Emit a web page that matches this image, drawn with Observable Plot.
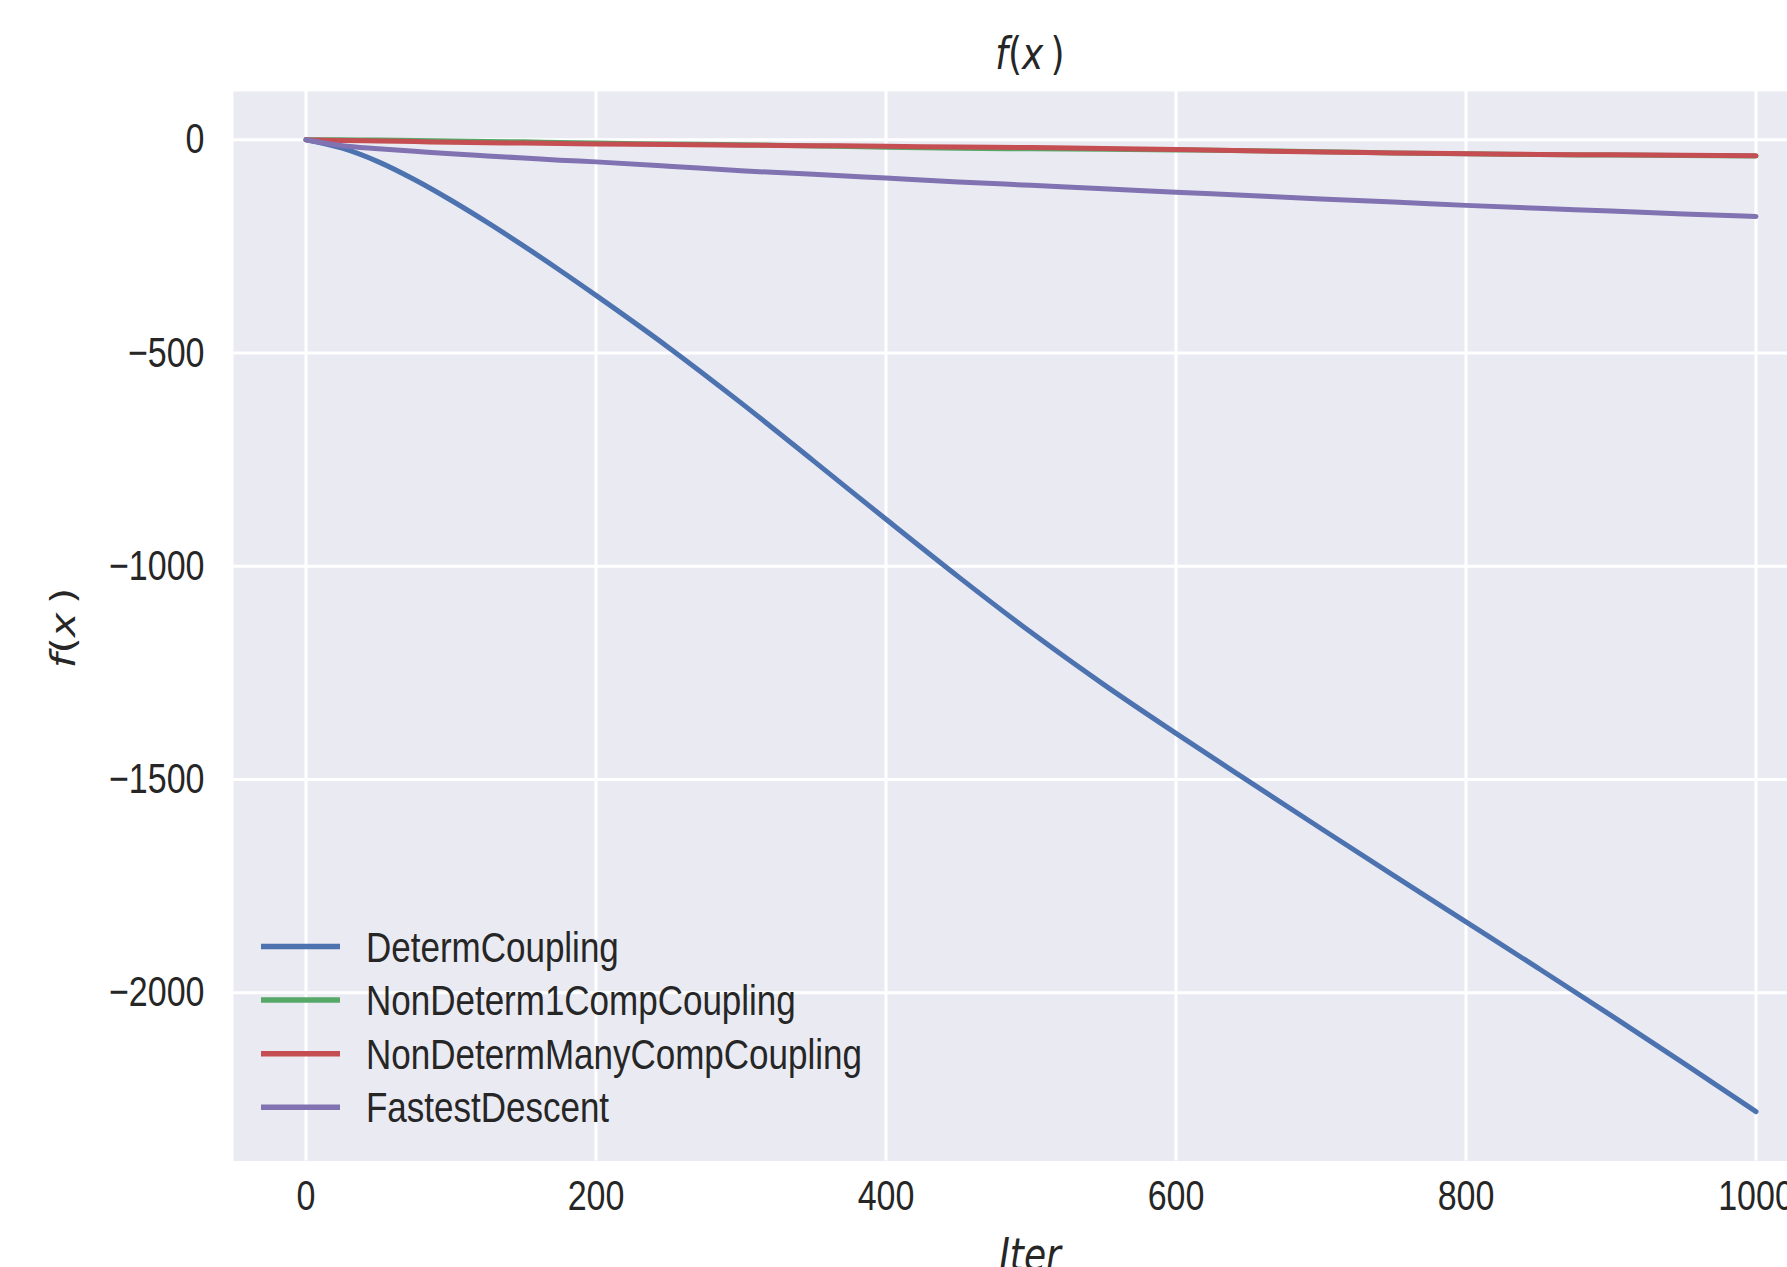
<!DOCTYPE html>
<html><head><meta charset="utf-8">
<script src="https://cdn.jsdelivr.net/npm/d3@7"></script>
<script src="https://cdn.jsdelivr.net/npm/@observablehq/plot@0.6"></script>
<style>
html,body{margin:0;padding:0;overflow:hidden;background:#fff;width:1787px;height:1267px}
#chart{position:relative;width:1828px}
svg text{fill:#262626}
</style></head><body><div id="chart"></div>
<script>
// ---- data ----
const names = ["DetermCoupling","NonDeterm1CompCoupling","NonDetermManyCompCoupling","FastestDescent"];
const colors = ["#4C72B0","#55A868","#C44E52","#8172B2"];
const iters = [0,25,50,75,100,125,150,175,200,250,300,350,400,450,500,550,600,650,700,750,800,850,900,950,1000];
const determCoupling = [0,-20,-52,-94,-142,-194,-249,-306,-365,-487,-617,-753,-890,-1025,-1155,-1277,-1392,-1504,-1615,-1725,-1834,-1943,-2053,-2165,-2279];
const nonDeterm1Comp = [0,0,-1,-2,-3,-4,-5,-6.5,-8,-10,-12,-14.5,-17.5,-20,-21.5,-22.5,-24,-26,-28,-31,-33,-35,-36,-37,-38];
const nonDetermMany = [0,-2,-3,-4.5,-6,-7,-8,-9,-10,-11.5,-13,-14,-15.5,-17,-18.5,-20.5,-23,-26,-29,-31,-33,-34.5,-35.5,-36.5,-37.5];
const fastestDescent = [0,-14,-21,-27,-33,-38,-43,-48,-52,-62,-73,-81,-90,-99,-107,-115,-123,-131,-139,-146,-154,-161,-167,-174,-180];
const xTicks = [0,200,400,600,800,1000];
const xTickLabels = ["0","200","400","600","800","1000"];
const yTicks = [0,-500,-1000,-1500,-2000];
const yTickLabels = ["0","\u2212500","\u22121000","\u22121500","\u22122000"];

const seriesValues = [determCoupling, nonDeterm1Comp, nonDetermMany, fastestDescent];
const rows = [];
seriesValues.forEach((vals, s) => vals.forEach((v, i) => rows.push({series: names[s], iter: iters[i], value: v})));

const K = 1.23; // vertical stretch of glyphs in the reference
const FONT = '"Liberation Sans", Arial, sans-serif';

const chart = Plot.plot({
  width: 1828, height: 1267,
  marginLeft: 233, marginRight: 0, marginTop: 91, marginBottom: 106.5,
  style: {background: "transparent", fontFamily: FONT, fontSize: "34px", color: "#262626", overflow: "visible"},
  x: {domain: [-50, 1050], label: null},
  y: {domain: [-2394.6, 113], label: null},
  color: {domain: names, range: colors},
  marks: [
    Plot.frame({fill: "#EAEAF2", stroke: "none"}),
    Plot.gridX(xTicks, {stroke: "#ffffff", strokeOpacity: 1, strokeWidth: 3}),
    Plot.gridY(yTicks, {stroke: "#ffffff", strokeOpacity: 1, strokeWidth: 3}),
    Plot.line(rows, {x: "iter", y: "value", z: "series", stroke: "series", strokeWidth: 5, curve: "monotone-x"}),
    Plot.axisX(xTicks, {tickSize: 0, tickPadding: 22, tickFormat: d => xTickLabels[xTicks.indexOf(d)], fontSize: 34, label: null}),
    Plot.axisY(yTicks, {tickSize: 0, tickPadding: 29, tickFormat: d => yTickLabels[yTicks.indexOf(d)], fontSize: 34, label: null})
  ]
});
document.getElementById("chart").appendChild(chart);

const svg = d3.select(chart);
function stretch(node){
  const b = node.getBBox();
  const cy = b.y + b.height/2;
  const tr = node.getAttribute("transform") || "";
  node.setAttribute("transform", `${tr} translate(0,${cy}) scale(1,${K}) translate(0,${-cy})`);
}
svg.selectAll("text").each(function(){ stretch(this); });

// title
const title = svg.append("text")
  .attr("x", 1030).attr("y", 54).attr("dy", "0.35em")
  .attr("text-anchor", "middle")
  .style("font-family", '"DejaVu Sans", sans-serif').style("font-size", "36px").attr("fill", "#262626");
title.append("tspan").style("font-style", "italic").text("f");
title.append("tspan").text("(");
title.append("tspan").style("font-style", "italic").text("x");
title.append("tspan").text("\u2009)");
stretch(title.node());

// x label
const xl = svg.append("text")
  .attr("x", 1030).attr("y", 1255).attr("dy", "0.35em")
  .attr("text-anchor", "middle")
  .style("font-family", '"DejaVu Sans", sans-serif').style("font-size", "36px").style("font-style", "italic").attr("fill", "#262626")
  .text("Iter");
stretch(xl.node());

// y label
const yl = svg.append("text")
  .attr("transform", `translate(63,628) scale(1,${K}) rotate(-90)`)
  .attr("dy", "0.35em")
  .attr("text-anchor", "middle")
  .style("font-family", '"DejaVu Sans", sans-serif').style("font-size", "34px").attr("fill", "#262626");
yl.append("tspan").style("font-style", "italic").text("f");
yl.append("tspan").text("(");
yl.append("tspan").style("font-style", "italic").text("x");
yl.append("tspan").text("\u2009)");

// legend
const lg = svg.append("g").attr("text-anchor", "start");
names.forEach((n, i) => {
  const cy = 946.5 + i * 53.6;
  lg.append("line").attr("x1", 261).attr("x2", 340).attr("y1", cy).attr("y2", cy)
    .attr("stroke", colors[i]).attr("stroke-width", 5.5);
  const t = lg.append("text").attr("x", 366).attr("y", cy).attr("dy", "0.35em")
    .attr("text-anchor", "start")
    .style("font-family", FONT).style("font-size", "35px").attr("fill", "#262626").text(n);
  stretch(t.node());
});
</script></body></html>
